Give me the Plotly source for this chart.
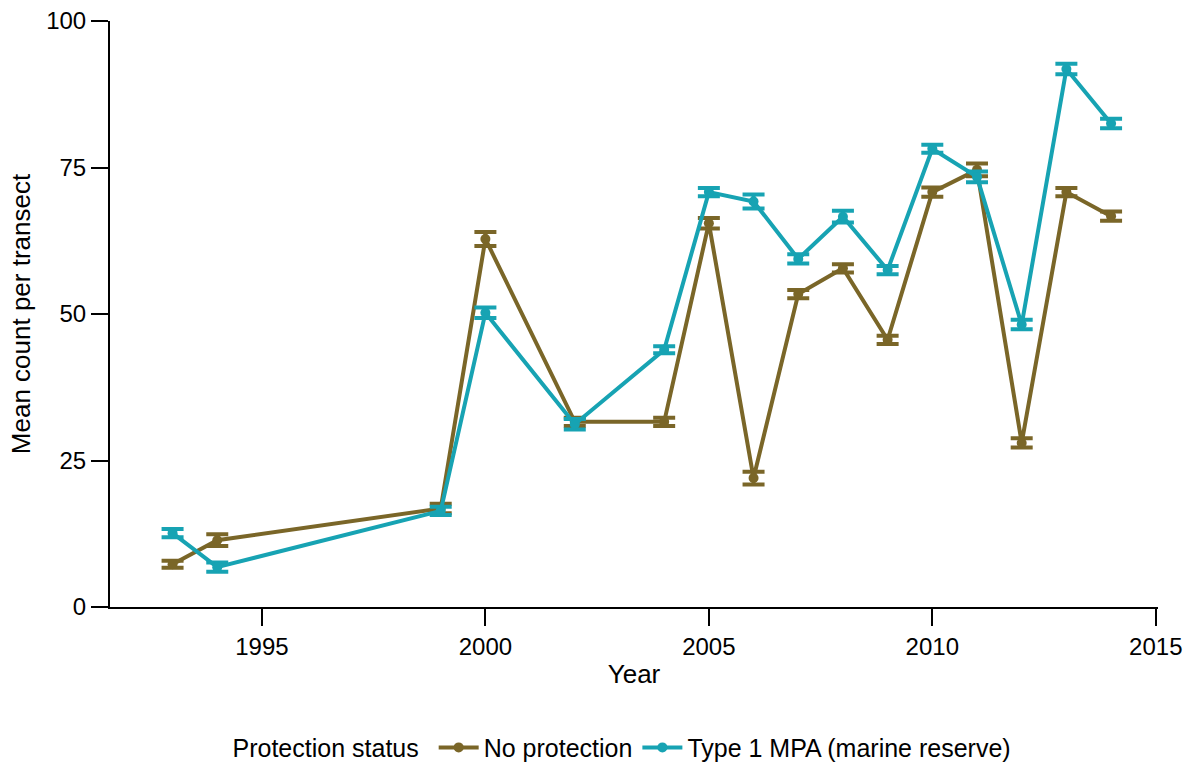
import plotly.graph_objects as go

years_none = [1993, 1994, 1999, 2000, 2002, 2004, 2005, 2006, 2007, 2008, 2009, 2010, 2011, 2012, 2013, 2014]
mean_none = [7.3, 11.4, 16.8, 62.8, 31.6, 31.6, 65.5, 22.0, 53.4, 57.8, 45.6, 70.8, 74.6, 28.0, 70.8, 66.7]
se_none = [0.6, 1.0, 0.8, 1.2, 0.7, 0.7, 0.9, 1.1, 0.7, 0.7, 0.7, 0.8, 1.1, 0.8, 0.7, 0.8]

years_mpa = [1993, 1994, 1999, 2000, 2002, 2004, 2005, 2006, 2007, 2008, 2009, 2010, 2011, 2012, 2013, 2014]
mean_mpa = [12.6, 6.8, 16.4, 50.2, 31.2, 43.9, 70.8, 69.2, 59.4, 66.6, 57.5, 78.2, 73.4, 48.2, 91.8, 82.5]
se_mpa = [0.7, 0.8, 0.7, 0.9, 0.9, 0.6, 0.7, 1.2, 0.8, 1.0, 0.7, 0.7, 0.9, 0.8, 0.9, 0.8]

BROWN = "#7a6628"
TEAL = "#17a3b3"
FONT = "Liberation Sans, Arial, sans-serif"

fig = go.Figure()
for name, xs, ys, es, col in [
    ("No protection", years_none, mean_none, se_none, BROWN),
    ("Type 1 MPA (marine reserve)", years_mpa, mean_mpa, se_mpa, TEAL),
]:
    fig.add_trace(go.Scatter(
        x=xs, y=ys, name=name, mode="lines+markers",
        line=dict(color=col, width=4),
        marker=dict(color=col, size=10),
        error_y=dict(type="data", array=es, visible=True, color=col, thickness=4, width=11),
    ))

axis_common = dict(
    showline=True, linecolor="black", linewidth=2, ticks="outside", ticklen=17,
    tickwidth=2, tickcolor="black", showgrid=False, zeroline=False,
    tickfont=dict(family=FONT, size=24, color="black"),
)
fig.update_layout(
    width=1196, height=766,
    plot_bgcolor="white", paper_bgcolor="white",
    margin=dict(l=110, r=38, t=21, b=159, autoexpand=False),
    font=dict(family=FONT, size=24, color="black"),
    xaxis=dict(
        range=[1991.6, 2015.05], tickvals=[1995, 2000, 2005, 2010, 2015],
        title=dict(text="Year", font=dict(size=26), standoff=6),
        **axis_common,
    ),
    yaxis=dict(
        range=[0, 100], tickvals=[0, 25, 50, 75, 100],
        title=dict(text="Mean count per transect", font=dict(size=26), standoff=8),
        **axis_common,
    ),
    legend=dict(
        orientation="h", x=0.49, xanchor="center", y=-0.24, yanchor="middle",
        title=dict(text="Protection status ", font=dict(size=25)),
        font=dict(size=25), itemwidth=40,
    ),
)

fig.write_html("out.html")
